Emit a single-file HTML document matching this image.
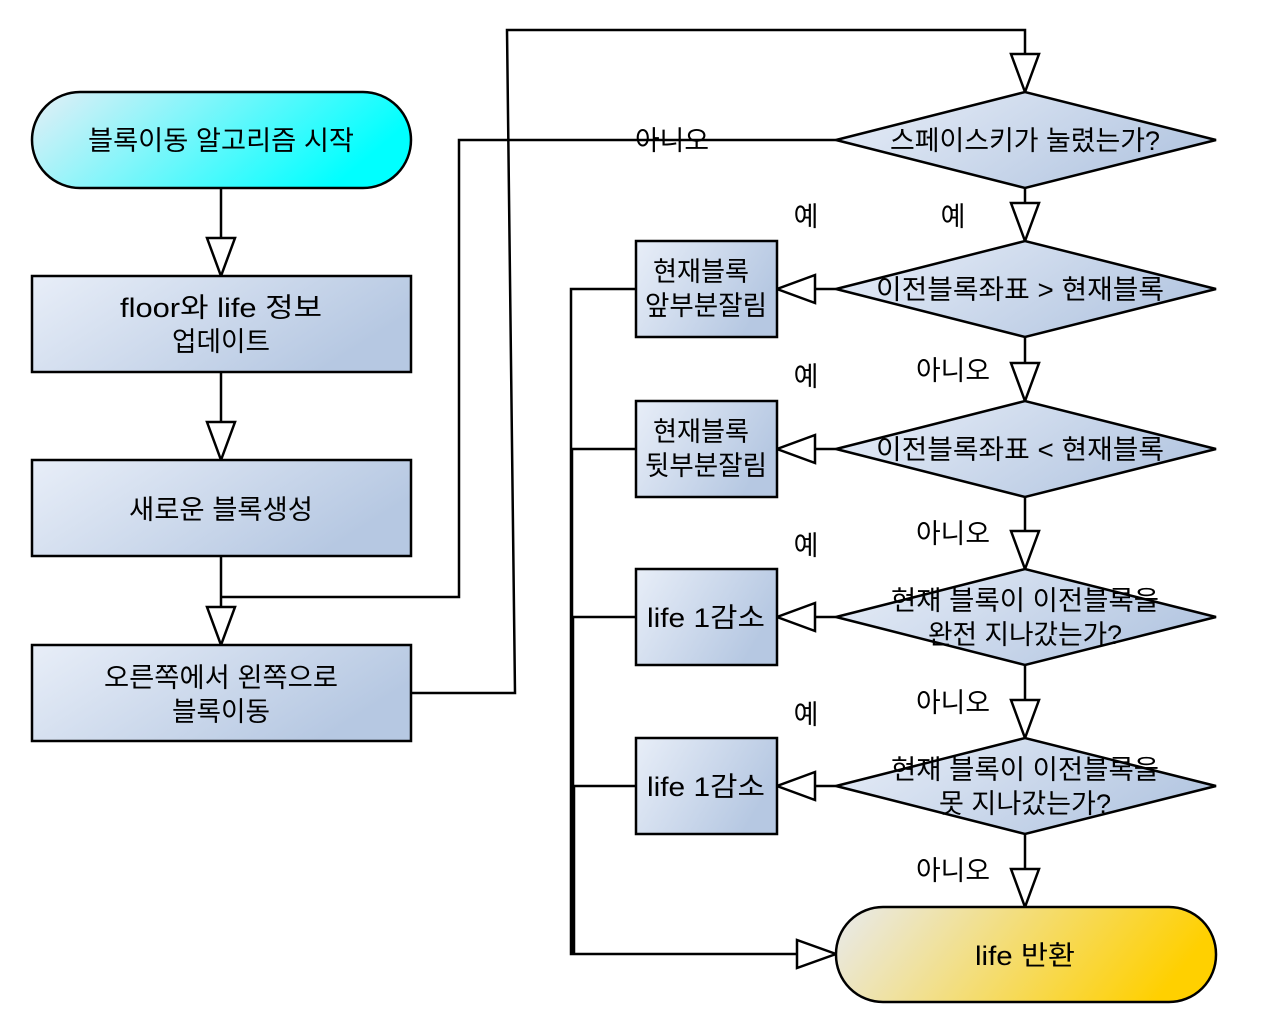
<!DOCTYPE html>
<html><head><meta charset="utf-8"><style>
html,body{margin:0;padding:0;background:#fff;}
svg{display:block;}
text{font-family:"Liberation Sans","Noto Sans CJK KR",sans-serif;font-size:27px;fill:#000;text-anchor:middle;}
</style></head><body>
<svg width="1264" height="1032" viewBox="0 0 1264 1032" xmlns="http://www.w3.org/2000/svg">
<defs>
<linearGradient id="gc" x1="0" y1="0" x2="1" y2="0.3"><stop offset="0" stop-color="#e6eef6"/><stop offset="1" stop-color="#00ffff"/></linearGradient>
<linearGradient id="gb" x1="0" y1="0" x2="1" y2="0.4"><stop offset="0" stop-color="#e8eef8"/><stop offset="1" stop-color="#b6c8e2"/></linearGradient>
<linearGradient id="gy" x1="0" y1="0" x2="1" y2="0.2"><stop offset="0" stop-color="#e8eaee"/><stop offset="1" stop-color="#ffd000"/></linearGradient>
</defs>
<g fill="none" stroke="#000" stroke-width="2.5">
<line x1="221" y1="188" x2="221" y2="240"/>
<line x1="221" y1="372" x2="221" y2="424"/>
<line x1="221" y1="556" x2="221" y2="608"/>
<polyline points="836,140 459,140 459,597 221,597"/>
<polyline points="411,693 515,693 507,30 1025,30 1025,54"/>
<line x1="1025" y1="188" x2="1025" y2="203"/>
<line x1="1025" y1="337" x2="1025" y2="363"/>
<line x1="1025" y1="497" x2="1025" y2="531"/>
<line x1="1025" y1="665" x2="1025" y2="700"/>
<line x1="1025" y1="834" x2="1025" y2="869"/>
<line x1="836" y1="289" x2="815" y2="289"/>
<line x1="836" y1="449" x2="815" y2="449"/>
<line x1="836" y1="617" x2="815" y2="617"/>
<line x1="836" y1="786" x2="815" y2="786"/>
<polyline points="636,289 571,289 571,954 797,954"/>
<polyline points="636,449 572,449 572,954"/>
<polyline points="636,617 573,617 573,954"/>
<polyline points="636,786 574,786 574,954"/>
</g>
<g fill="#fff" stroke="#000" stroke-width="2.5">
<polygon points="207,238 235,238 221,276"/>
<polygon points="207,422 235,422 221,460"/>
<polygon points="207,607 235,607 221,645"/>
<polygon points="1011,54 1039,54 1025,92"/>
<polygon points="1011,203 1039,203 1025,241"/>
<polygon points="1011,363 1039,363 1025,401"/>
<polygon points="1011,531 1039,531 1025,569"/>
<polygon points="1011,700 1039,700 1025,738"/>
<polygon points="1011,869 1039,869 1025,907"/>
<polygon points="815,275 815,303 777,289"/>
<polygon points="815,435 815,463 777,449"/>
<polygon points="815,603 815,631 777,617"/>
<polygon points="815,772 815,800 777,786"/>
<polygon points="797,940 797,968 836,954"/>
</g>
<g stroke="#000" stroke-width="2.5">
<rect x="32" y="92" width="379" height="96" rx="48" fill="url(#gc)"/>
<rect x="32" y="276" width="379" height="96" fill="url(#gb)"/>
<rect x="32" y="460" width="379" height="96" fill="url(#gb)"/>
<rect x="32" y="645" width="379" height="96" fill="url(#gb)"/>
<polygon points="836,140 1025,92 1216,140 1025,188" fill="url(#gb)"/>
<polygon points="836,289 1025,241 1216,289 1025,337" fill="url(#gb)"/>
<polygon points="836,449 1025,401 1216,449 1025,497" fill="url(#gb)"/>
<polygon points="836,617 1025,569 1216,617 1025,665" fill="url(#gb)"/>
<polygon points="836,786 1025,738 1216,786 1025,834" fill="url(#gb)"/>
<rect x="636" y="241" width="141" height="96" fill="url(#gb)"/>
<rect x="636" y="401" width="141" height="96" fill="url(#gb)"/>
<rect x="636" y="569" width="141" height="96" fill="url(#gb)"/>
<rect x="636" y="738" width="141" height="96" fill="url(#gb)"/>
<rect x="836" y="907" width="380" height="95" rx="47" fill="url(#gy)"/>
</g>
<text x="221" y="150" textLength="266" lengthAdjust="spacingAndGlyphs">블록이동 알고리즘 시작</text>
<text x="221" y="317" textLength="202" lengthAdjust="spacingAndGlyphs">floor와 life 정보</text>
<text x="221" y="351" textLength="98" lengthAdjust="spacingAndGlyphs">업데이트</text>
<text x="221" y="519" textLength="184" lengthAdjust="spacingAndGlyphs">새로운 블록생성</text>
<text x="221" y="687" textLength="234" lengthAdjust="spacingAndGlyphs">오른쪽에서 왼쪽으로</text>
<text x="221" y="721" textLength="98" lengthAdjust="spacingAndGlyphs">블록이동</text>
<text x="1025" y="150" textLength="270" lengthAdjust="spacingAndGlyphs">스페이스키가 눌렸는가?</text>
<text x="1020" y="299" textLength="288" lengthAdjust="spacingAndGlyphs">이전블록좌표 &gt; 현재블록</text>
<text x="1020" y="459" textLength="288" lengthAdjust="spacingAndGlyphs">이전블록좌표 &lt; 현재블록</text>
<text x="1025" y="610" textLength="268" lengthAdjust="spacingAndGlyphs">현재 블록이 이전블록을</text>
<text x="1025" y="644" textLength="194" lengthAdjust="spacingAndGlyphs">완전 지나갔는가?</text>
<text x="1025" y="779" textLength="268" lengthAdjust="spacingAndGlyphs">현재 블록이 이전블록을</text>
<text x="1025" y="813" textLength="172" lengthAdjust="spacingAndGlyphs">못 지나갔는가?</text>
<text x="701" y="281" textLength="96" lengthAdjust="spacingAndGlyphs">현재블록</text>
<text x="706" y="315" textLength="122" lengthAdjust="spacingAndGlyphs">앞부분잘림</text>
<text x="701" y="441" textLength="96" lengthAdjust="spacingAndGlyphs">현재블록</text>
<text x="706" y="475" textLength="122" lengthAdjust="spacingAndGlyphs">뒷부분잘림</text>
<text x="706" y="627" textLength="118" lengthAdjust="spacingAndGlyphs">life 1감소</text>
<text x="706" y="796" textLength="118" lengthAdjust="spacingAndGlyphs">life 1감소</text>
<text x="1025" y="965" textLength="100" lengthAdjust="spacingAndGlyphs">life 반환</text>
<text x="806" y="226">예</text>
<text x="953" y="226">예</text>
<text x="806" y="386">예</text>
<text x="806" y="555">예</text>
<text x="806" y="724">예</text>
<text x="672" y="150" textLength="74" lengthAdjust="spacingAndGlyphs">아니오</text>
<text x="953" y="380" textLength="74" lengthAdjust="spacingAndGlyphs">아니오</text>
<text x="953" y="543" textLength="74" lengthAdjust="spacingAndGlyphs">아니오</text>
<text x="953" y="712" textLength="74" lengthAdjust="spacingAndGlyphs">아니오</text>
<text x="953" y="880" textLength="74" lengthAdjust="spacingAndGlyphs">아니오</text>
</svg>
</body></html>
